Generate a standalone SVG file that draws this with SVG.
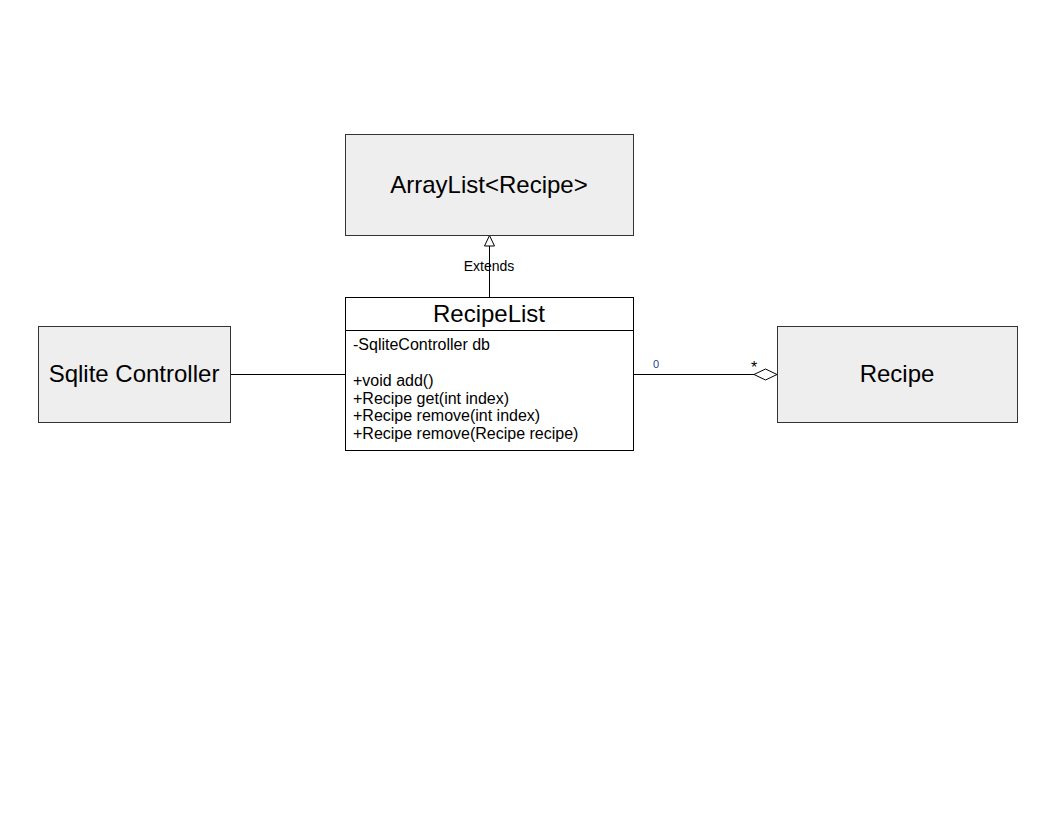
<svg xmlns="http://www.w3.org/2000/svg" width="1056" height="816" viewBox="0 0 1056 816">
<style>
.box{fill:#eeeeee;stroke:#333333;stroke-width:1}
.cls{fill:#ffffff;stroke:#000000;stroke-width:1}
.big{font-family:"Liberation Sans",Arial,sans-serif;font-size:24px;fill:#000;text-anchor:middle}
.mem{font-family:"Liberation Sans",Arial,sans-serif;font-size:16px;fill:#000}
.lbl{font-family:"Liberation Sans",Arial,sans-serif;font-size:14px;fill:#000;text-anchor:middle}
.ln{stroke:#000;stroke-width:1;fill:none}
</style>
<rect width="1056" height="816" fill="#ffffff"/>
<g id="connectors">
<line class="ln" x1="489.5" y1="297" x2="489.5" y2="246"/>
<polygon points="489.5,235.5 484.5,246 494.5,246" fill="#fff" stroke="#000"/>
<text class="lbl" x="489" y="271">Extends</text>
<line class="ln" x1="230" y1="374.5" x2="345" y2="374.5"/>
<line class="ln" x1="633" y1="374.5" x2="754" y2="374.5"/>
<polygon points="754,374.5 765.5,369 777,374.5 765.5,380" fill="#fff" stroke="#000"/>
<text x="656" y="368" font-family="Liberation Sans,Arial,sans-serif" font-size="11" fill="#1f3f8f" text-anchor="middle">0</text>
<text x="754" y="373" font-family="Liberation Sans,Arial,sans-serif" font-size="16" fill="#000" text-anchor="middle">*</text>
</g>
<g id="arraylist">
<rect class="box" x="345.5" y="134.5" width="288" height="101"/>
<text class="big" x="489" y="193">ArrayList&lt;Recipe&gt;</text>
</g>
<g id="recipelist">
<rect class="cls" x="345.5" y="297.5" width="288" height="153"/>
<line class="ln" x1="345.5" y1="330.5" x2="633.5" y2="330.5"/>
<text class="big" x="489" y="322">RecipeList</text>
<text class="mem" x="353" y="350">-SqliteController db</text>
<text class="mem" x="353" y="386">+void add()</text>
<text class="mem" x="353" y="404">+Recipe get(int index)</text>
<text class="mem" x="353" y="421">+Recipe remove(int index)</text>
<text class="mem" x="353" y="439">+Recipe remove(Recipe recipe)</text>
</g>
<g id="sqlite">
<rect class="box" x="38.5" y="326.5" width="192" height="96"/>
<text class="big" x="134" y="382">Sqlite Controller</text>
</g>
<g id="recipe">
<rect class="box" x="777.5" y="326.5" width="240" height="96"/>
<text class="big" x="897" y="382">Recipe</text>
</g>
</svg>
